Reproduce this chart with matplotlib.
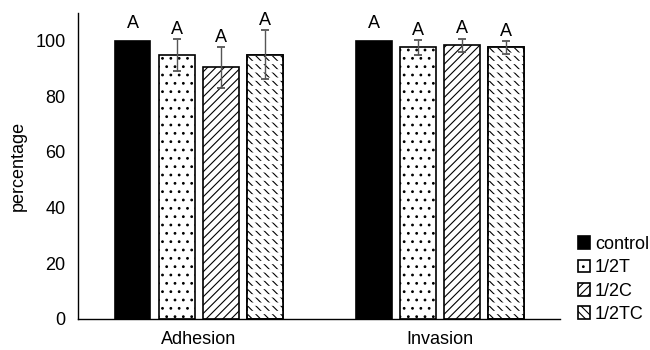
import matplotlib.pyplot as plt
import numpy as np

plt.rcParams['font.family'] = ['Liberation Sans', 'DejaVu Sans']
plt.rcParams['hatch.linewidth'] = 0.8

categories = ['Adhesion', 'Invasion']
groups = ['control', '1/2T', '1/2C', '1/2TC']
values = {
    'control': [100.0, 100.0],
    '1/2T': [94.8, 97.6],
    '1/2C': [90.5, 98.4],
    '1/2TC': [95.0, 97.6],
}
errors = {
    'control': [0.0, 0.0],
    '1/2T': [5.8, 2.6],
    '1/2C': [7.4, 2.4],
    '1/2TC': [8.8, 2.4],
}
# significance letters and the height they sit at
letters = ['A', 'A']
letter_y = {
    'control': [104.5, 104.5],
    '1/2T': [102.3, 102.0],
    '1/2C': [99.4, 102.8],
    '1/2TC': [105.6, 101.8],
}

hatches = {'control': None, '1/2T': '..', '1/2C': '////', '1/2TC': '\\\\\\\\'}
colors = {'control': 'black', '1/2T': 'white', '1/2C': 'white', '1/2TC': 'white'}

fig = plt.figure(figsize=[6.5, 3.5], dpi=100)
ax = fig.add_axes([0.12, 0.089, 0.742, 0.874])

x = np.arange(len(categories))
width = 0.149
step = 0.1826

for i, g in enumerate(groups):
    pos = x + (i - 1.5) * step
    ax.bar(pos, values[g], width, color=colors[g], edgecolor='black',
           linewidth=1.2, hatch=hatches[g], label=g, zorder=2)
    if g == '1/2TC':
        # white horizontal bands to break the diagonals into dashed rows
        with plt.rc_context({'hatch.linewidth': 2.4}):
            ax.bar(pos, values[g], width, fill=False, edgecolor='white',
                   linewidth=0, hatch='--', zorder=2.1)
        ax.bar(pos, values[g], width, fill=False, edgecolor='black',
               linewidth=1.2, zorder=2.2)
    err = np.array(errors[g])
    if err.any():
        ax.errorbar(pos, values[g], yerr=err, fmt='none', ecolor='#555555',
                    elinewidth=1.0, capsize=3, capthick=1.3, zorder=3)
    for j in range(len(categories)):
        ax.text(pos[j], letter_y[g][j], letters[j],
                ha='center', va='baseline', fontsize=13)

ax.set_xlim(-0.5, 1.5)
ax.set_ylim(0, 110)
ax.set_yticks(np.arange(0, 101, 20))
ax.set_xticks(x)
ax.set_xticklabels(categories, fontsize=13)
ax.tick_params(axis='y', length=0, labelsize=13, pad=9)
ax.tick_params(axis='x', length=0, pad=9)
ax.set_ylabel('percentage', fontsize=13, labelpad=6)
ax.spines['top'].set_visible(False)
ax.spines['right'].set_visible(False)
ax.spines['left'].set_linewidth(1.0)
ax.spines['bottom'].set_linewidth(1.0)

ax.legend(loc='lower left', bbox_to_anchor=(1.01, -0.055), frameon=False,
          fontsize=13, handlelength=0.7, handleheight=0.7, handletextpad=0.25,
          labelspacing=0.35, borderpad=0.2)

fig.savefig('out.png', dpi=100)
